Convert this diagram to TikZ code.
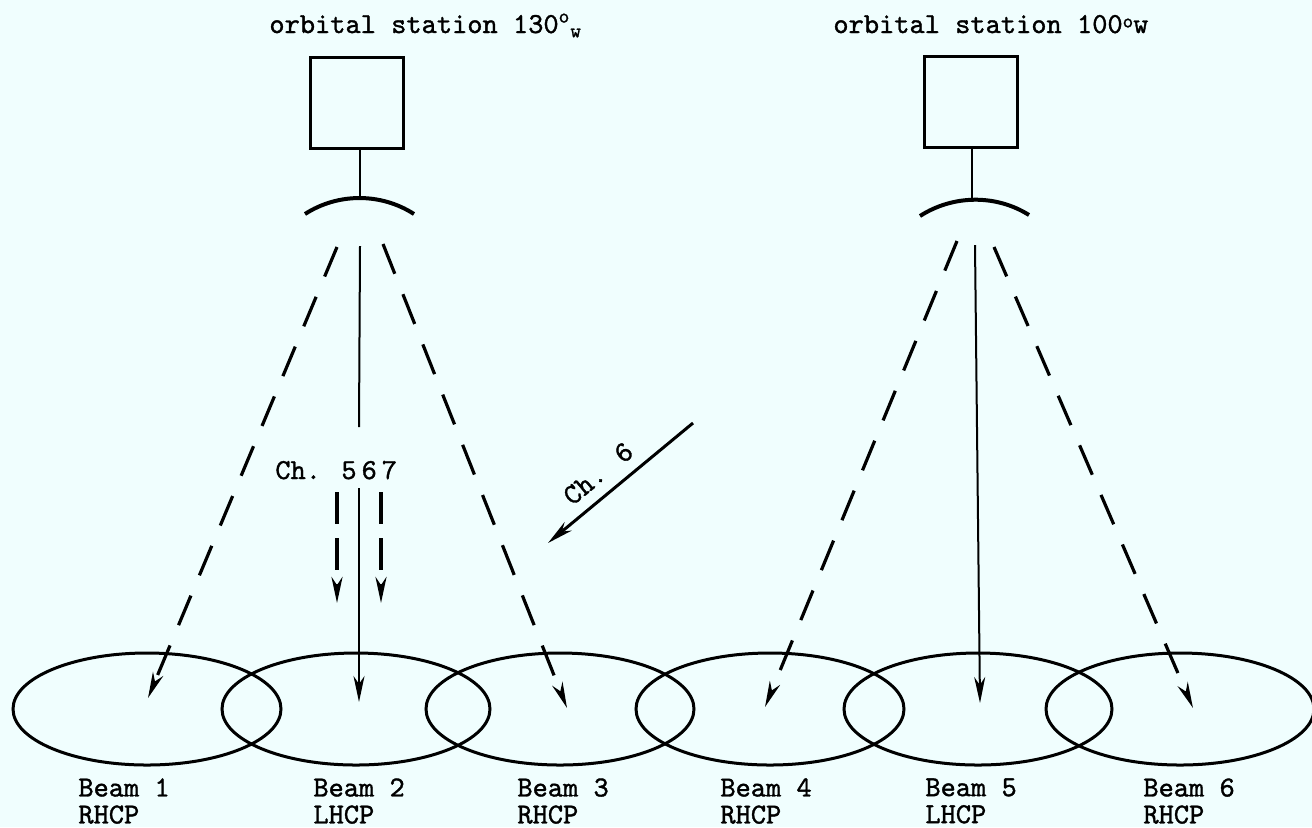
\documentclass[tikz,border=0pt]{standalone}
\usepackage{fontspec}
\usetikzlibrary{arrows.meta,shapes.geometric}
\newfontfamily\typer{lmmono10-regular.otf}[FakeBold=1.2]
\definecolor{paper}{RGB}{240,254,254}

\begin{document}
\begin{tikzpicture}[x=0.5pt, y=-0.5pt, font=\typer\fontsize{14.5}{13.5}\selectfont]
\tikzstyle{satbox} = [rectangle, draw, line width=1.5pt, minimum width=46.5pt, minimum height=45.5pt, inner sep=0pt]
\tikzstyle{beam} = [ellipse, draw, line width=1.5pt, minimum width=134pt, minimum height=56pt, inner sep=0pt]
\tikzstyle{beamtip} = [-{Stealth[length=13pt,width=5.5pt,inset=4pt]}]
\tikzstyle{ray} = [beamtip, line width=1.6pt, dash pattern=on 16pt off 11pt]
\tikzstyle{carrier} = [beamtip, line width=1pt]
\tikzstyle{dish} = [line width=2pt]
\tikzstyle{beamlabel} = [align=left, anchor=north west, inner sep=0pt]

\fill[paper] (0,0) rectangle (1312,827);
\useasboundingbox (0,0) rectangle (1312,827);

% the two satellites
\node[anchor=base west, inner sep=0pt] (orb130) at (269,33) {orbital station 130\textsuperscript{o}\textsubscript{w}};
\node[anchor=base west, inner sep=0pt] (orb100) at (833,33) {orbital station 100\raisebox{0.45ex}{\fontsize{10}{10}\selectfont o}w};
\node[satbox] (sat130) at (356.5,102.5) {};
\node[satbox] (sat100) at (970.5,102) {};

\coordinate (dishA) at (360,198);
\coordinate (dishAl) at (305,214);
\coordinate (dishAr) at (414,214);
\coordinate (dishB) at (972,200);
\coordinate (dishBl) at (920,216);
\coordinate (dishBr) at (1029,215);
\draw[line width=1pt] (sat130.south -| dishA) -- (dishA);
\draw[line width=1pt] (sat100.south -| dishB) -- (dishB);
\draw[dish] (dishAl) .. controls (338,192.7) and (381,192.7) .. (dishAr);
\draw[dish] (dishBl) .. controls (953,194.7) and (996,194.2) .. (dishBr);

% beam footprints
\node[beam] (b1) at (147,709) {};
\node[beam] (b2) at (356,709) {};
\node[beam] (b3) at (560,709) {};
\node[beam] (b4) at (770,709) {};
\node[beam] (b5) at (978,709) {};
\node[beam] (b6) at (1180,709) {};

\node[beamlabel] (lab1) at (78,778) {Beam 1\\RHCP};
\node[beamlabel] (lab2) at (313,778) {Beam 2\\LHCP};
\node[beamlabel] (lab3) at (517,778) {Beam 3\\RHCP};
\node[beamlabel] (lab4) at (720,778) {Beam 4\\RHCP};
\node[beamlabel] (lab5) at (925,778) {Beam 5\\LHCP};
\node[beamlabel] (lab6) at (1143,778) {Beam 6\\RHCP};

% ray ends
\coordinate (r1) at (337,247);
\coordinate (r2) at (360,246);
\coordinate (r3) at (383,244);
\coordinate (r4) at (957,241);
\coordinate (r5) at (975,245);
\coordinate (r6) at (994,247);
\coordinate (t1) at (148,698);
\coordinate (t2) at (359,702);
\coordinate (t3) at (567,708);
\coordinate (t4) at (765,707);
\coordinate (t5) at (980,703);
\coordinate (t6) at (1193,708);

\draw[ray] (r1) -- (t1);
\draw[ray] (r3) -- (t3);
\draw[ray] (r4) -- (t4);
\draw[ray] (r6) -- (t6);
\draw[carrier] (r5) -- (t5);

% beam 2 carries channels 5, 6, 7
\node[anchor=base west, inner sep=0pt] (ch567) at (275,479) {Ch. 5\kern2.5pt6\kern2.5pt7};
\coordinate (gapA) at (359,427);
\coordinate (gapB) at (359,488);
\draw[line width=1pt] (r2) -- (gapA);
\draw[carrier] (gapB) -- (t2);
\coordinate (c5) at (337,492);
\coordinate (c5t) at (337,603);
\coordinate (c7) at (381,492);
\coordinate (c7t) at (381,603);
\draw[ray, dash pattern=on 16pt off 7pt] (c5) -- (c5t);
\draw[ray, dash pattern=on 16pt off 7pt] (c7) -- (c7t);

% interfering channel 6
\coordinate (ch6end) at (693,423);
\coordinate (ch6tip) at (548,543);
\draw[beamtip, line width=1.5pt] (ch6end) -- (ch6tip);
\path (ch6tip) -- node[pos=0.44, sloped, above=6pt, inner sep=0pt] (ch6) {Ch. 6} (ch6end);
\end{tikzpicture}
\end{document}
